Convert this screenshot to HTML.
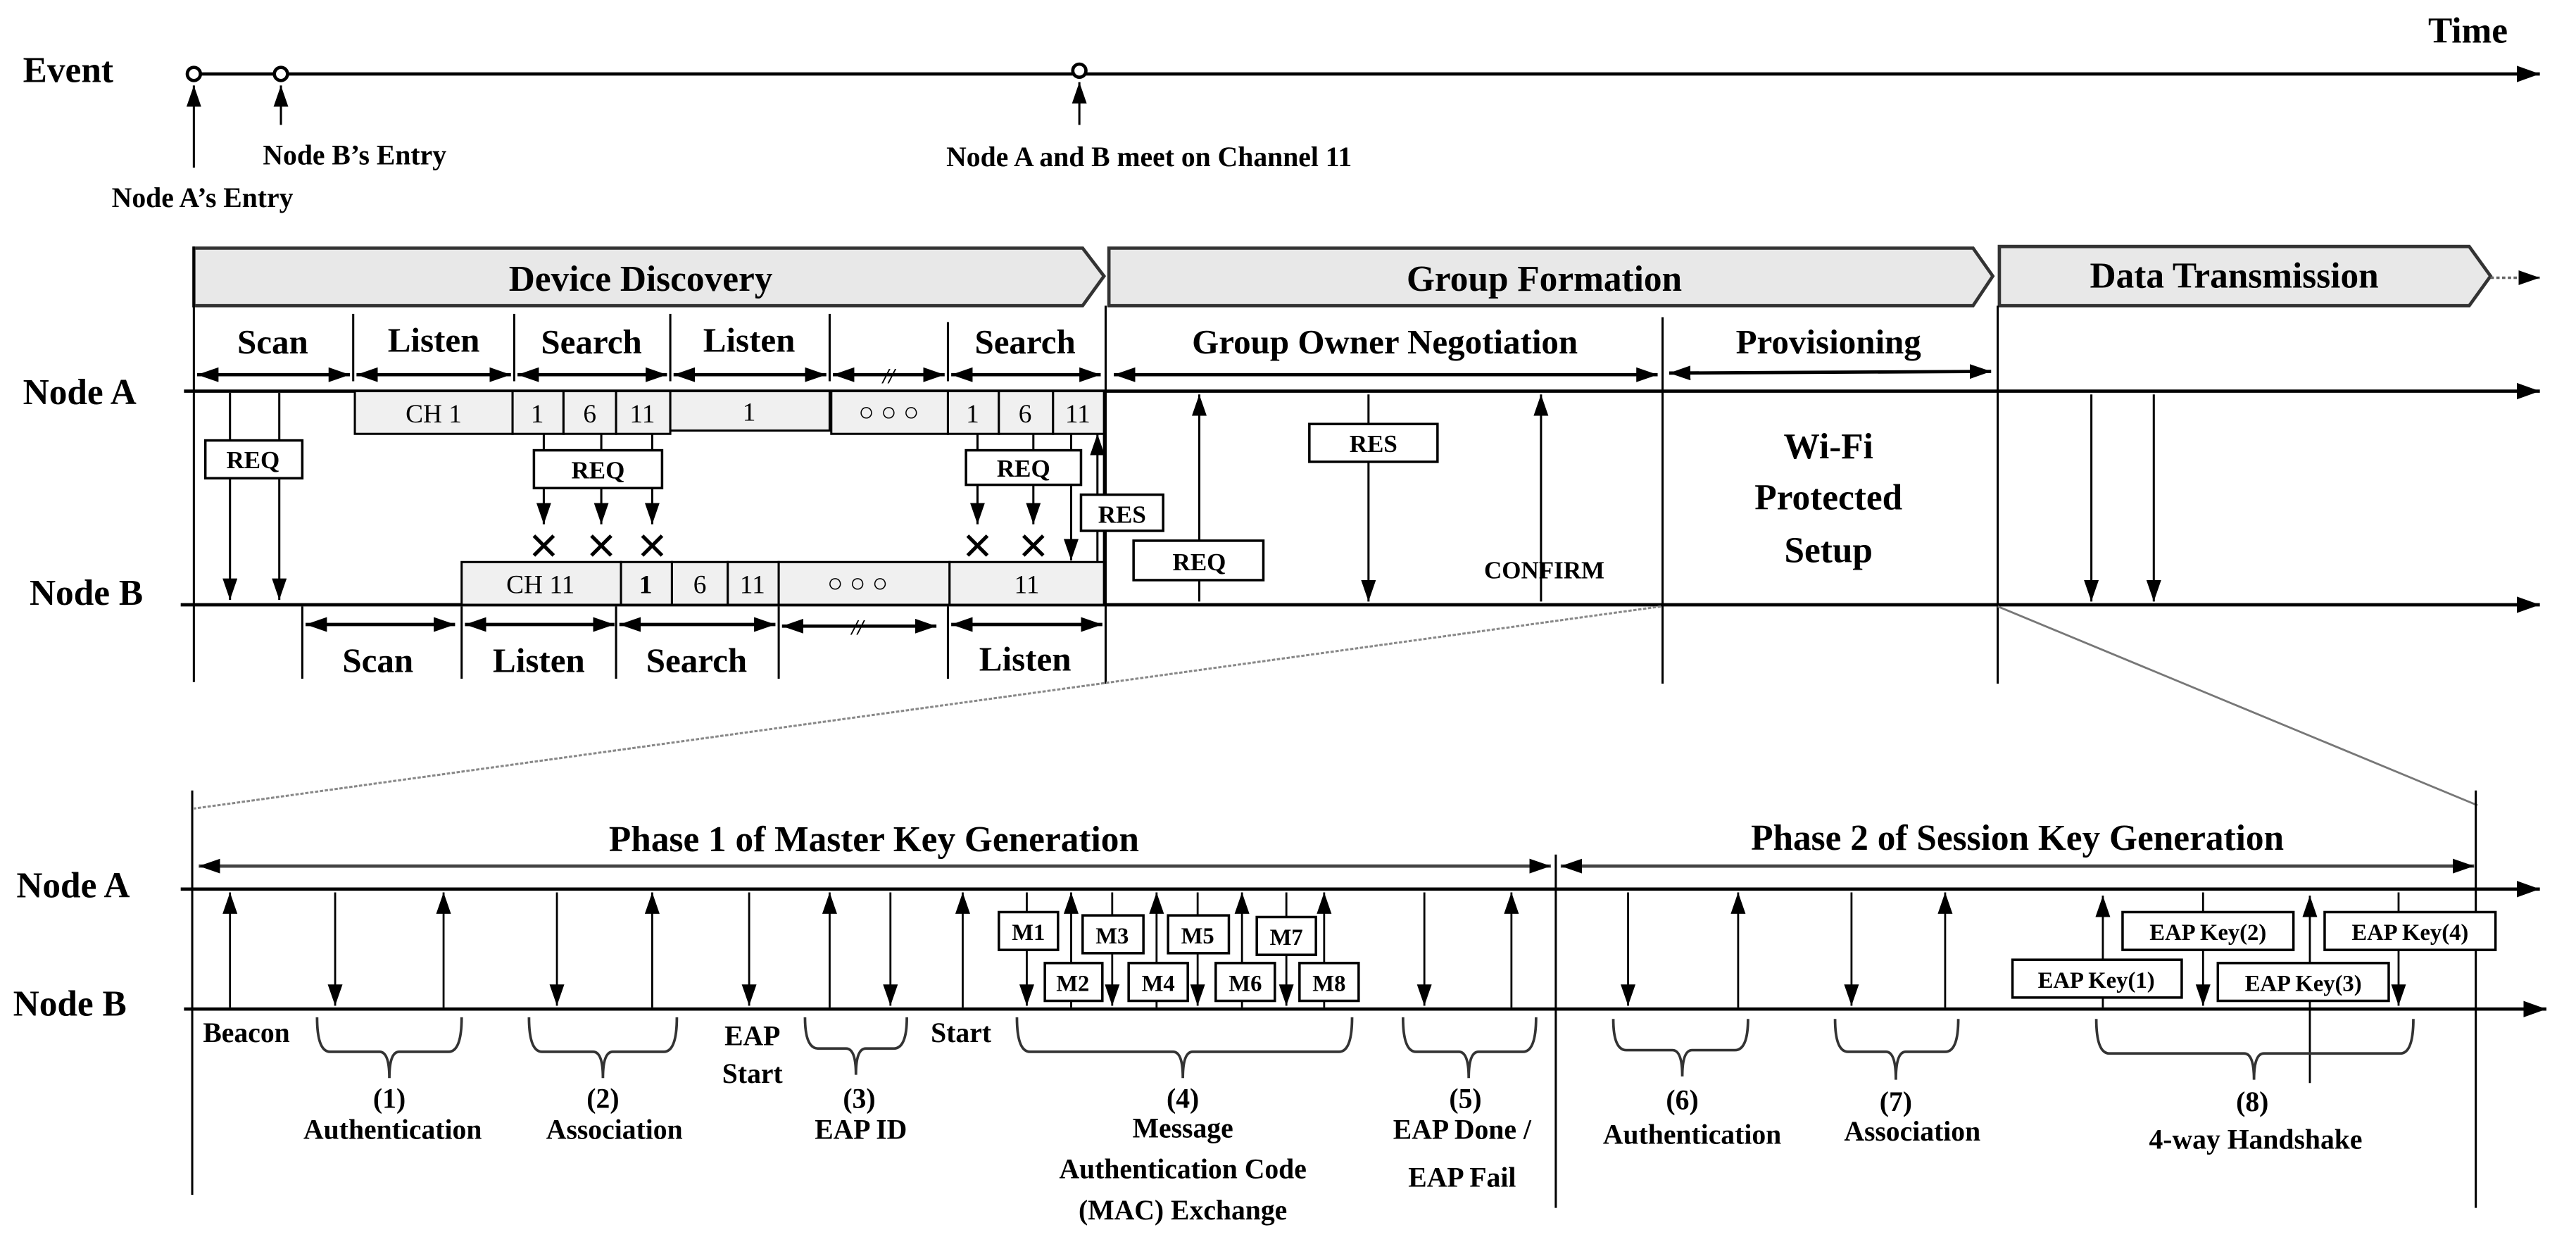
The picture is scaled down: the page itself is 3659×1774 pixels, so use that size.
<!DOCTYPE html>
<html><head><meta charset="utf-8"><style>
html,body{margin:0;padding:0;background:#fff;}
svg{display:block;}
text{font-family:"Liberation Serif",serif;font-weight:bold;fill:#000;}
</style></head><body>
<svg width="3659" height="1774" viewBox="0 0 1568 760" preserveAspectRatio="none" xmlns="http://www.w3.org/2000/svg">
<defs>
<marker id="h" markerUnits="userSpaceOnUse" markerWidth="16" markerHeight="12" refX="14" refY="5" orient="auto-start-reverse"><path d="M0,0 L14,5 L0,10 z" fill="#000"/></marker>
<marker id="s" markerUnits="userSpaceOnUse" markerWidth="14" markerHeight="10" refX="13" refY="4.5" orient="auto-start-reverse"><path d="M0,0 L13,4.5 L0,9 z" fill="#000"/></marker>
</defs>
<rect width="1568" height="760" fill="#fff"/>

<!-- Event timeline -->
<text x="14" y="50" font-size="22">Event</text>
<text x="1478" y="26" font-size="22">Time</text>
<line x1="122" y1="45" x2="1546" y2="45" stroke="#000" stroke-width="2" marker-end="url(#h)"/>
<circle cx="118" cy="45" r="4" fill="#fff" stroke="#000" stroke-width="2"/>
<circle cx="171" cy="45" r="4" fill="#fff" stroke="#000" stroke-width="2"/>
<circle cx="657" cy="43" r="4" fill="#fff" stroke="#000" stroke-width="2"/>
<line x1="118" y1="102" x2="118" y2="52" stroke="#000" stroke-width="1.3" marker-end="url(#s)"/>
<line x1="171" y1="76" x2="171" y2="52" stroke="#000" stroke-width="1.3" marker-end="url(#s)"/>
<line x1="657" y1="76" x2="657" y2="50" stroke="#000" stroke-width="1.3" marker-end="url(#s)"/>
<text x="160" y="100" font-size="17">Node B’s Entry</text>
<text x="68" y="126" font-size="17">Node A’s Entry</text>
<text x="576" y="101" font-size="17">Node A and B meet on Channel 11</text>

<!-- Banners -->
<polygon points="118,151 659,151 672,168 659,186 118,186" fill="#e8e8e8" stroke="#333" stroke-width="2"/>
<polygon points="675,151 1201,151 1213,168 1201,186 675,186" fill="#e8e8e8" stroke="#333" stroke-width="2"/>
<polygon points="1217,150 1503,150 1516,168 1503,186 1217,186" fill="#e8e8e8" stroke="#333" stroke-width="2"/>
<line x1="1516" y1="169" x2="1546" y2="169" stroke="#666" stroke-width="1.5" stroke-dasharray="2,1.5" marker-end="url(#s)"/>
<text x="390" y="177" font-size="22" text-anchor="middle">Device Discovery</text>
<text x="940" y="177" font-size="22" text-anchor="middle">Group Formation</text>
<text x="1360" y="175" font-size="22" text-anchor="middle">Data Transmission</text>

<!-- Node lines -->
<text x="14" y="246" font-size="22">Node A</text>
<text x="18" y="368" font-size="22">Node B</text>
<line x1="112" y1="238" x2="1546" y2="238" stroke="#000" stroke-width="2" marker-end="url(#h)"/>
<line x1="110" y1="368" x2="1546" y2="368" stroke="#000" stroke-width="2" marker-end="url(#h)"/>

<!-- Vertical separators -->
<g stroke="#000" stroke-width="1.3">
<line x1="118" y1="150" x2="118" y2="415"/>
<line x1="673" y1="186" x2="673" y2="416"/>
<line x1="1012" y1="193" x2="1012" y2="416"/>
<line x1="1216" y1="186" x2="1216" y2="416"/>
<line x1="215" y1="191" x2="215" y2="232"/>
<line x1="313" y1="191" x2="313" y2="232"/>
<line x1="408" y1="191" x2="408" y2="232"/>
<line x1="505" y1="191" x2="505" y2="232"/>
<line x1="577" y1="196" x2="577" y2="232"/>
<line x1="184" y1="369" x2="184" y2="413"/>
<line x1="281" y1="369" x2="281" y2="413"/>
<line x1="375" y1="369" x2="375" y2="413"/>
<line x1="474" y1="369" x2="474" y2="413"/>
<line x1="577" y1="369" x2="577" y2="413"/>
</g>

<!-- Segment labels Node A -->
<g font-size="21" text-anchor="middle">
<text x="166" y="215">Scan</text>
<text x="264" y="214">Listen</text>
<text x="360" y="215">Search</text>
<text x="456" y="214">Listen</text>
<text x="624" y="215">Search</text>
<text x="843" y="215">Group Owner Negotiation</text>
<text x="1113" y="215">Provisioning</text>
<text x="230" y="409">Scan</text>
<text x="328" y="409">Listen</text>
<text x="424" y="409">Search</text>
<text x="624" y="408">Listen</text>
</g>
<g stroke="#000" stroke-width="2">
<line x1="120" y1="228" x2="213" y2="228" marker-start="url(#s)" marker-end="url(#s)"/>
<line x1="217" y1="228" x2="311" y2="228" marker-start="url(#s)" marker-end="url(#s)"/>
<line x1="315" y1="228" x2="406" y2="228" marker-start="url(#s)" marker-end="url(#s)"/>
<line x1="410" y1="228" x2="503" y2="228" marker-start="url(#s)" marker-end="url(#s)"/>
<line x1="507" y1="228" x2="575" y2="228" marker-start="url(#s)" marker-end="url(#s)"/>
<line x1="579" y1="228" x2="670" y2="228" marker-start="url(#s)" marker-end="url(#s)"/>
<line x1="678" y1="228" x2="1009" y2="228" marker-start="url(#s)" marker-end="url(#s)"/>
<line x1="1016" y1="227" x2="1212" y2="226" marker-start="url(#s)" marker-end="url(#s)"/>
<line x1="186" y1="380" x2="277" y2="380" marker-start="url(#s)" marker-end="url(#s)"/>
<line x1="283" y1="380" x2="374" y2="380" marker-start="url(#s)" marker-end="url(#s)"/>
<line x1="377" y1="380" x2="472" y2="380" marker-start="url(#s)" marker-end="url(#s)"/>
<line x1="476" y1="381" x2="570" y2="381" marker-start="url(#s)" marker-end="url(#s)"/>
<line x1="579" y1="380" x2="671" y2="380" marker-start="url(#s)" marker-end="url(#s)"/>
</g>
<text x="541" y="233" font-size="13" font-style="italic" text-anchor="middle">//</text>
<text x="522" y="386" font-size="13" font-style="italic" text-anchor="middle">//</text>

<!-- Channel boxes -->
<g fill="#f0f0f0" stroke="#000" stroke-width="1.3">
<rect x="216" y="238" width="96" height="26"/>
<rect x="312" y="238" width="31" height="26"/>
<rect x="343" y="238" width="32" height="26"/>
<rect x="375" y="238" width="33" height="26"/>
<rect x="408" y="238" width="97" height="24"/>
<rect x="506" y="238" width="71" height="26"/>
<rect x="577" y="238" width="31" height="26"/>
<rect x="608" y="238" width="33" height="26"/>
<rect x="641" y="238" width="31" height="26"/>
<rect x="281" y="342" width="97" height="26"/>
<rect x="378" y="342" width="31" height="26"/>
<rect x="409" y="342" width="34" height="26"/>
<rect x="443" y="342" width="31" height="26"/>
<rect x="474" y="342" width="104" height="26"/>
<rect x="578" y="342" width="94" height="26"/>
</g>
<g font-size="16" font-weight="normal" text-anchor="middle" style="font-weight:normal">
<text x="264" y="257" style="font-weight:normal">CH 1</text>
<text x="327" y="257" style="font-weight:normal">1</text>
<text x="359" y="257" style="font-weight:normal">6</text>
<text x="391" y="257" style="font-weight:normal">11</text>
<text x="456" y="256" style="font-weight:normal">1</text>
<text x="541" y="256" style="font-weight:normal">○ ○ ○</text>
<text x="592" y="257" style="font-weight:normal">1</text>
<text x="624" y="257" style="font-weight:normal">6</text>
<text x="656" y="257" style="font-weight:normal">11</text>
<text x="329" y="361" style="font-weight:normal">CH 11</text>
<text x="393" y="361">1</text>
<text x="426" y="361" style="font-weight:normal">6</text>
<text x="458" y="361" style="font-weight:normal">11</text>
<text x="522" y="360" style="font-weight:normal">○ ○ ○</text>
<text x="625" y="361" style="font-weight:normal">11</text>
</g>

<!-- Discovery messages -->
<g stroke="#000" stroke-width="1.3">
<line x1="140" y1="239" x2="140" y2="365" marker-end="url(#s)"/>
<line x1="170" y1="239" x2="170" y2="365" marker-end="url(#s)"/>
<line x1="331" y1="264" x2="331" y2="319" marker-end="url(#s)"/>
<line x1="366" y1="264" x2="366" y2="319" marker-end="url(#s)"/>
<line x1="397" y1="264" x2="397" y2="319" marker-end="url(#s)"/>
<line x1="595" y1="264" x2="595" y2="319" marker-end="url(#s)"/>
<line x1="629" y1="264" x2="629" y2="319" marker-end="url(#s)"/>
<line x1="652" y1="264" x2="652" y2="341" marker-end="url(#s)"/>
<line x1="668" y1="342" x2="668" y2="264" marker-end="url(#s)"/>
<line x1="672" y1="342" x2="672" y2="264"/>
<line x1="730" y1="366" x2="730" y2="240" marker-end="url(#s)"/>
<line x1="833" y1="240" x2="833" y2="366" marker-end="url(#s)"/>
<line x1="938" y1="366" x2="938" y2="240" marker-end="url(#s)"/>
<line x1="1273" y1="240" x2="1273" y2="366" marker-end="url(#s)"/>
<line x1="1311" y1="240" x2="1311" y2="366" marker-end="url(#s)"/>
</g>
<g stroke="#000" stroke-width="2.2">
<path d="M325,326 l12,12 M337,326 l-12,12 M360,326 l12,12 M372,326 l-12,12 M391,326 l12,12 M403,326 l-12,12 M589,326 l12,12 M601,326 l-12,12 M623,326 l12,12 M635,326 l-12,12"/>
</g>
<g fill="#fff" stroke="#000" stroke-width="1.5">
<rect x="125" y="268" width="59" height="23"/>
<rect x="325" y="274" width="78" height="23"/>
<rect x="588" y="274" width="70" height="21"/>
<rect x="658" y="301" width="50" height="22"/>
<rect x="690" y="329" width="79" height="24"/>
<rect x="797" y="258" width="78" height="23"/>
</g>
<g font-size="15" text-anchor="middle">
<text x="154" y="285">REQ</text>
<text x="364" y="291">REQ</text>
<text x="623" y="290">REQ</text>
<text x="683" y="318">RES</text>
<text x="730" y="347">REQ</text>
<text x="836" y="275">RES</text>
<text x="940" y="352" font-size="15">CONFIRM</text>
</g>
<g font-size="22" text-anchor="middle">
<text x="1113" y="279">Wi-Fi</text>
<text x="1113" y="310">Protected</text>
<text x="1113" y="342">Setup</text>
</g>

<!-- Zoom dashed lines -->
<line x1="1011" y1="369" x2="118" y2="492" stroke="#888" stroke-width="1.3" stroke-dasharray="2,1"/>
<line x1="1216" y1="369" x2="1508" y2="490" stroke="#777" stroke-width="1.2"/>

<!-- Lower section -->
<text x="10" y="546" font-size="22">Node A</text>
<text x="8" y="618" font-size="22">Node B</text>
<line x1="110" y1="541" x2="1546" y2="541" stroke="#000" stroke-width="2" marker-end="url(#h)"/>
<line x1="112" y1="614" x2="1550" y2="614" stroke="#000" stroke-width="2" marker-end="url(#h)"/>
<g stroke="#000" stroke-width="1.3">
<line x1="117" y1="481" x2="117" y2="727"/>
<line x1="947" y1="520" x2="947" y2="735"/>
<line x1="1507" y1="481" x2="1507" y2="735"/>
</g>
<line x1="121" y1="527" x2="944" y2="527" stroke="#444" stroke-width="2" marker-start="url(#s)" marker-end="url(#s)"/>
<line x1="950" y1="527" x2="1506" y2="527" stroke="#444" stroke-width="2" marker-start="url(#s)" marker-end="url(#s)"/>
<text x="532" y="518" font-size="22" text-anchor="middle">Phase 1 of Master Key Generation</text>
<text x="1228" y="517" font-size="22" text-anchor="middle">Phase 2 of Session Key Generation</text>

<g stroke="#000" stroke-width="1.2">
<!-- up arrows -->
<line x1="140" y1="613" x2="140" y2="543" marker-end="url(#s)"/>
<line x1="270" y1="613" x2="270" y2="543" marker-end="url(#s)"/>
<line x1="397" y1="613" x2="397" y2="543" marker-end="url(#s)"/>
<line x1="505" y1="613" x2="505" y2="543" marker-end="url(#s)"/>
<line x1="586" y1="613" x2="586" y2="543" marker-end="url(#s)"/>
<line x1="652" y1="613" x2="652" y2="543" marker-end="url(#s)"/>
<line x1="704" y1="613" x2="704" y2="543" marker-end="url(#s)"/>
<line x1="756" y1="613" x2="756" y2="543" marker-end="url(#s)"/>
<line x1="806" y1="613" x2="806" y2="543" marker-end="url(#s)"/>
<line x1="920" y1="613" x2="920" y2="543" marker-end="url(#s)"/>
<line x1="1058" y1="613" x2="1058" y2="543" marker-end="url(#s)"/>
<line x1="1184" y1="613" x2="1184" y2="543" marker-end="url(#s)"/>
<line x1="1280" y1="613" x2="1280" y2="545" marker-end="url(#s)"/>
<line x1="1406" y1="659" x2="1406" y2="545" marker-end="url(#s)"/>
<!-- down arrows -->
<line x1="204" y1="543" x2="204" y2="612" marker-end="url(#s)"/>
<line x1="339" y1="543" x2="339" y2="612" marker-end="url(#s)"/>
<line x1="456" y1="543" x2="456" y2="612" marker-end="url(#s)"/>
<line x1="542" y1="543" x2="542" y2="612" marker-end="url(#s)"/>
<line x1="625" y1="543" x2="625" y2="612" marker-end="url(#s)"/>
<line x1="677" y1="543" x2="677" y2="612" marker-end="url(#s)"/>
<line x1="729" y1="543" x2="729" y2="612" marker-end="url(#s)"/>
<line x1="783" y1="543" x2="783" y2="612" marker-end="url(#s)"/>
<line x1="867" y1="543" x2="867" y2="612" marker-end="url(#s)"/>
<line x1="991" y1="543" x2="991" y2="612" marker-end="url(#s)"/>
<line x1="1127" y1="543" x2="1127" y2="612" marker-end="url(#s)"/>
<line x1="1341" y1="543" x2="1341" y2="612" marker-end="url(#s)"/>
<line x1="1460" y1="543" x2="1460" y2="612" marker-end="url(#s)"/>
</g>
<g fill="#fff" stroke="#000" stroke-width="1.5">
<rect x="608" y="555" width="36" height="23"/>
<rect x="659" y="557" width="37" height="23"/>
<rect x="711" y="557" width="37" height="23"/>
<rect x="765" y="558" width="36" height="23"/>
<rect x="636" y="586" width="35" height="23"/>
<rect x="687" y="586" width="36" height="23"/>
<rect x="740" y="586" width="36" height="23"/>
<rect x="791" y="586" width="36" height="23"/>
<rect x="1292" y="555" width="104" height="23"/>
<rect x="1415" y="555" width="104" height="23"/>
<rect x="1225" y="584" width="103" height="23"/>
<rect x="1350" y="586" width="104" height="23"/>
</g>
<g font-size="14" text-anchor="middle">
<text x="626" y="572">M1</text>
<text x="677" y="574">M3</text>
<text x="729" y="574">M5</text>
<text x="783" y="575">M7</text>
<text x="653" y="603">M2</text>
<text x="705" y="603">M4</text>
<text x="758" y="603">M6</text>
<text x="809" y="603">M8</text>
<text x="1344" y="572">EAP Key(2)</text>
<text x="1467" y="572">EAP Key(4)</text>
<text x="1276" y="601">EAP Key(1)</text>
<text x="1402" y="603">EAP Key(3)</text>
</g>

<!-- Braces -->
<g fill="none" stroke="#333" stroke-width="1.6">
<path d="M193,619 Q193,640 201,640 L231,640 Q237,640 237,656 Q237,640 243,640 L273,640 Q281,640 281,619"/>
<path d="M322,619 Q322,640 330,640 L361,640 Q367,640 367,656 Q367,640 373,640 L404,640 Q412,640 412,619"/>
<path d="M490,619 Q490,638 498,638 L515,638 Q521,638 521,654 Q521,638 527,638 L544,638 Q552,638 552,619"/>
<path d="M619,619 Q619,640 627,640 L714,640 Q720,640 720,656 Q720,640 726,640 L815,640 Q823,640 823,619"/>
<path d="M854,619 Q854,640 862,640 L888,640 Q894,640 894,656 Q894,640 900,640 L927,640 Q935,640 935,619"/>
<path d="M982,620 Q982,639 990,639 L1018,639 Q1024,639 1024,655 Q1024,639 1030,639 L1056,639 Q1064,639 1064,620"/>
<path d="M1117,620 Q1117,640 1125,640 L1148,640 Q1154,640 1154,657 Q1154,640 1160,640 L1184,640 Q1192,640 1192,620"/>
<path d="M1276,620 Q1276,641 1284,641 L1366,641 Q1372,641 1372,657 Q1372,641 1378,641 L1461,641 Q1469,641 1469,620"/>
</g>
<g font-size="17" text-anchor="middle">
<text x="150" y="634">Beacon</text>
<text x="458" y="636">EAP</text>
<text x="458" y="659">Start</text>
<text x="585" y="634">Start</text>
<text x="237" y="674">(1)</text>
<text x="239" y="693">Authentication</text>
<text x="367" y="674">(2)</text>
<text x="374" y="693">Association</text>
<text x="523" y="674">(3)</text>
<text x="524" y="693">EAP ID</text>
<text x="720" y="674">(4)</text>
<text x="720" y="692">Message</text>
<text x="720" y="717">Authentication Code</text>
<text x="720" y="742">(MAC) Exchange</text>
<text x="892" y="674">(5)</text>
<text x="890" y="693">EAP Done /</text>
<text x="890" y="722">EAP Fail</text>
<text x="1024" y="675">(6)</text>
<text x="1030" y="696">Authentication</text>
<text x="1154" y="676">(7)</text>
<text x="1164" y="694">Association</text>
<text x="1371" y="676">(8)</text>
<text x="1373" y="699">4-way Handshake</text>
</g>
</svg>
</body></html>
